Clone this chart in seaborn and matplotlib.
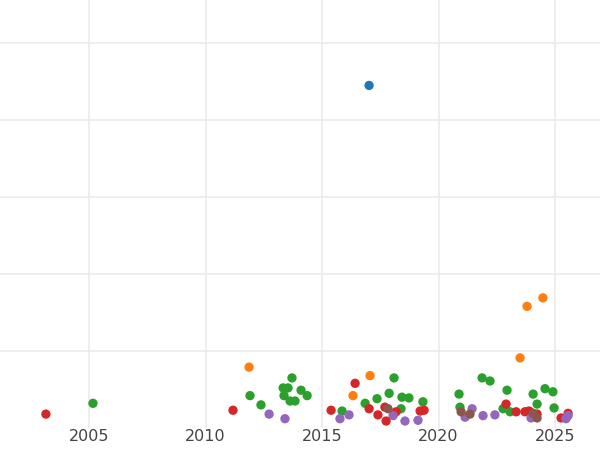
import matplotlib
matplotlib.use("Agg")
import matplotlib.pyplot as plt
import seaborn as sns
import pandas as pd

green_x = [2005.17,2011.91,2012.38,2013.33,2013.54,2013.71,2013.37,2013.63,2013.84,2014.10,2014.36,2015.86,2016.85,2017.36,2017.88,2018.09,2018.43,2018.73,2018.39,2019.33,2020.88,2020.92,2021.87,2022.21,2022.94,2022.77,2023.07,2024.06,2024.23,2024.57,2024.91,2024.96,2023.93]
green_y = [0.32,0.42,0.30,0.52,0.52,0.65,0.42,0.35,0.35,0.49,0.42,0.22,0.32,0.38,0.45,0.65,0.40,0.39,0.25,0.34,0.44,0.27,0.65,0.61,0.49,0.25,0.21,0.44,0.31,0.51,0.47,0.26,0.21]
red_x = [2003.15,2011.18,2015.39,2016.42,2017.02,2017.40,2017.75,2017.70,2018.18,2019.21,2019.38,2022.90,2023.33,2023.71,2024.23,2025.26,2025.56,2023.88]
red_y = [0.18,0.23,0.23,0.58,0.25,0.17,0.09,0.27,0.21,0.22,0.23,0.31,0.21,0.21,0.18,0.13,0.19,0.22]
orange_x = [2011.87,2016.33,2017.06,2023.50,2023.80,2024.48]
orange_y = [0.79,0.42,0.68,0.91,1.58,1.69]
purple_x = [2012.73,2013.41,2015.77,2016.16,2018.05,2018.56,2019.12,2021.14,2021.44,2021.91,2022.42,2023.97,2025.56,2025.47]
purple_y = [0.18,0.12,0.12,0.17,0.16,0.09,0.10,0.14,0.25,0.16,0.17,0.13,0.16,0.12]
brown_x = [2017.83,2020.97,2021.35,2024.23,2024.06]
brown_y = [0.25,0.21,0.18,0.13,0.19]
blue_x = [2017.02]
blue_y = [4.45]

groups = {"blue": (blue_x, blue_y), "orange": (orange_x, orange_y), "green": (green_x, green_y),
          "red": (red_x, red_y), "purple": (purple_x, purple_y), "brown": (brown_x, brown_y)}
rows = []
for g, (xs, ys) in groups.items():
    for x, y in zip(xs, ys):
        rows.append({"x": x, "y": y, "g": g})
df = pd.DataFrame(rows)

sns.set_theme(style="whitegrid")
fig = plt.figure(figsize=(6, 4.5), dpi=100)
ax = fig.add_axes([0, 0.049, 1, 0.951])
pal = {"blue": "#1f77b4", "orange": "#ff7f0e", "green": "#2ca02c",
       "red": "#d62728", "purple": "#9467bd", "brown": "#8c564b"}
sns.scatterplot(data=df, x="x", y="y", hue="g", palette=pal, s=45, edgecolor="none",
                legend=False, ax=ax, zorder=3)
ax.set_xlim(2001.18, 2026.93)
ax.set_ylim(0, 5.56)
ax.set_yticks([1, 2, 3, 4, 5])
ax.set_yticklabels([])
ax.set_xticks([2005, 2010, 2015, 2020, 2025])
ax.tick_params(axis="x", labelsize=11.5, colors="#444444", pad=1, length=0)
ax.tick_params(axis="y", length=0)
ax.set_xlabel("")
ax.set_ylabel("")
for s in ax.spines.values():
    s.set_visible(False)
ax.grid(color="#ebebeb", linewidth=1.2)
fig.savefig("out.png")
